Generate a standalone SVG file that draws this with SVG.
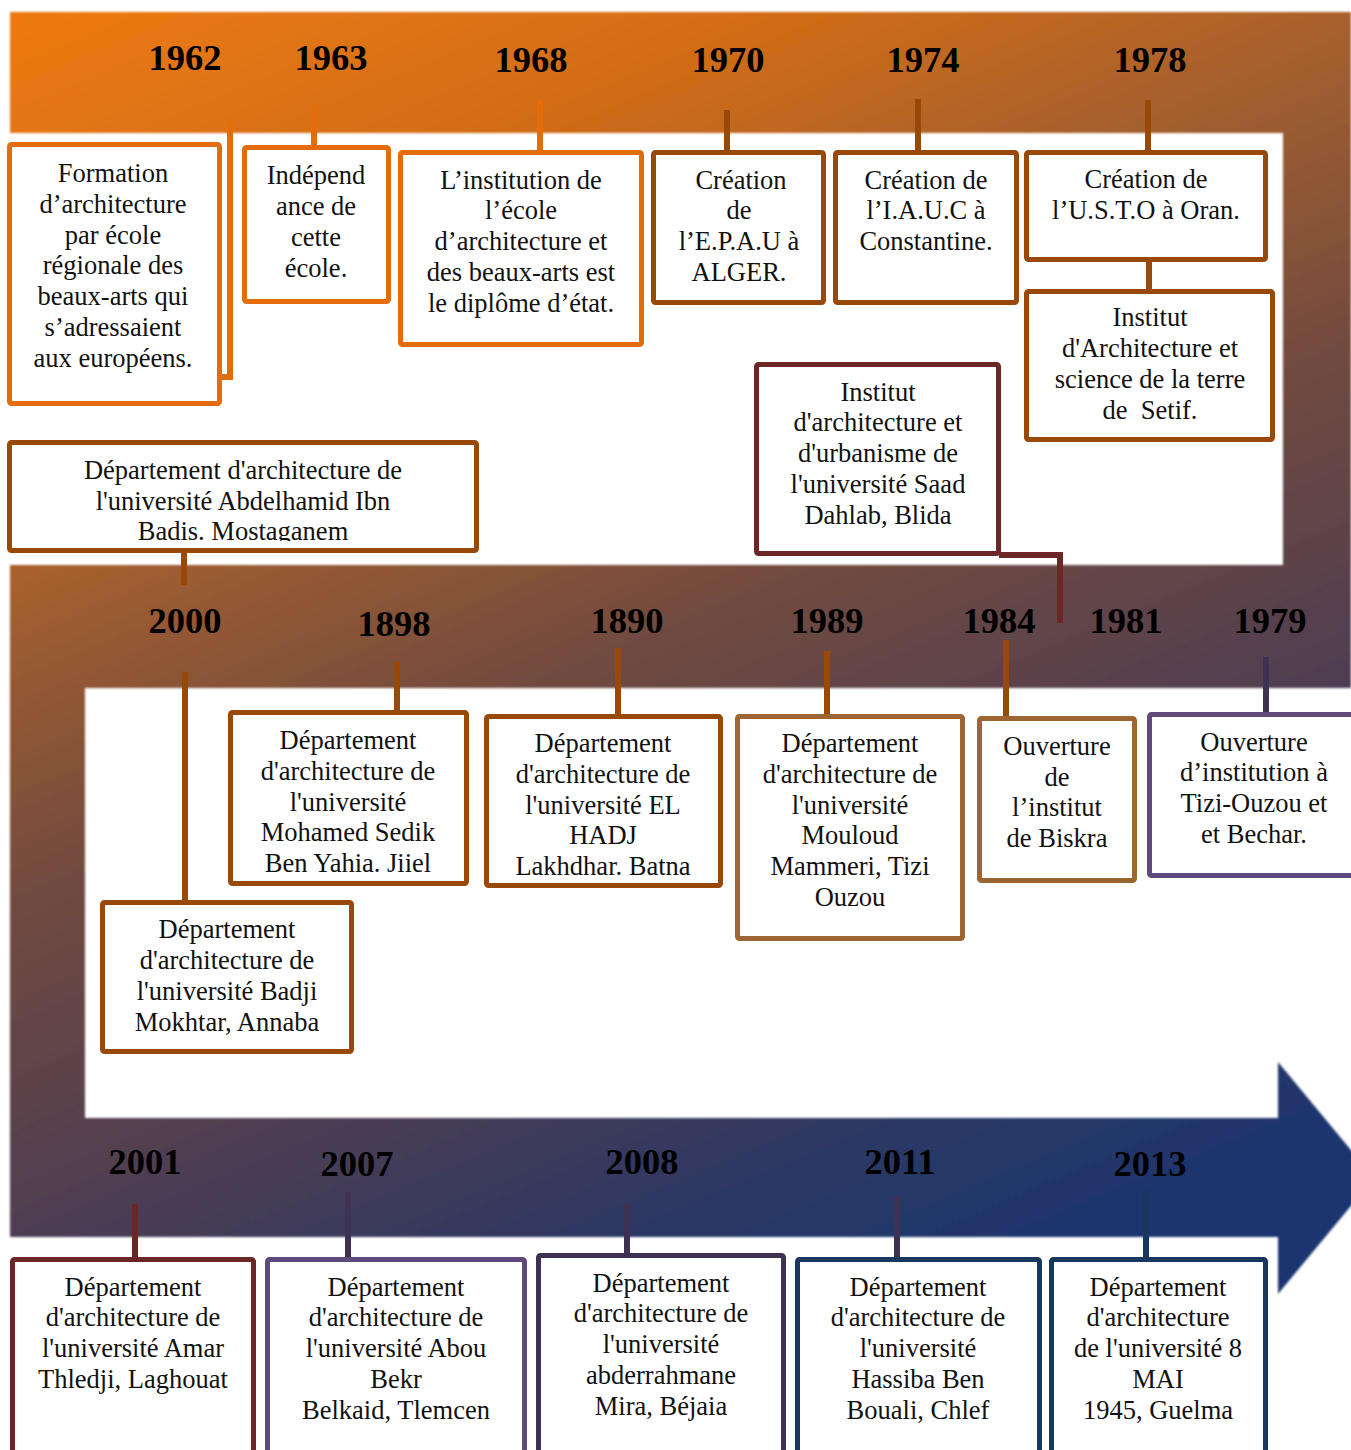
<svg xmlns="http://www.w3.org/2000/svg" width="1351" height="1450" viewBox="0 0 1351 1450">
<defs>
<linearGradient id="bandGrad" gradientUnits="userSpaceOnUse" x1="10" y1="12" x2="612" y2="1457">
<stop offset="0" stop-color="#ee7a10"/>
<stop offset="0.2" stop-color="#d06c18"/>
<stop offset="0.34" stop-color="#a6602e"/>
<stop offset="0.53" stop-color="#704a40"/>
<stop offset="0.72" stop-color="#4f3e52"/>
<stop offset="0.86" stop-color="#2e3862"/>
<stop offset="1" stop-color="#1b3670"/>
</linearGradient>
<filter id="soft" x="-2%" y="-2%" width="104%" height="104%"><feGaussianBlur stdDeviation="0.8"/></filter>
<clipPath id="clipMost"><rect x="12" y="445" width="462" height="96"/></clipPath>
<style>
.yr{font-family:"Liberation Serif","Times New Roman",serif;font-weight:bold;font-size:36.5px;fill:#000;text-anchor:middle}
.t{font-family:"Liberation Serif","Times New Roman",serif;font-size:26.5px;fill:#111;text-anchor:middle}
.box{fill:#fff;stroke-width:5;stroke-linejoin:round}
.c{fill:none;stroke-width:6}
.or{stroke:#e46c0a}
.br{stroke:#984807}
.lb{stroke:#9c6531}
.dr{stroke:#6b2626}
.pu{stroke:#604a7b}
.dp{stroke:#3f3151}
.bl{stroke:#17375e}
</style>
</defs>
<rect width="1351" height="1450" fill="#fff"/>
<g id="band">
<path d="M10,12 L1351,12 L1351,688 L85,688 L85,1118 L1278,1118 L1278,1062 L1374,1178 L1278,1294 L1278,1237 L10,1237 L10,565 L1283,565 L1283,133 L10,133 Z" fill="url(#bandGrad)" filter="url(#soft)"/>
</g>
<g id="years">
<text class="yr" x="185" y="70">1962</text>
<text class="yr" x="331" y="70">1963</text>
<text class="yr" x="531" y="72">1968</text>
<text class="yr" x="728" y="72">1970</text>
<text class="yr" x="923" y="72">1974</text>
<text class="yr" x="1150" y="72">1978</text>
<text class="yr" x="185" y="633">2000</text>
<text class="yr" x="394" y="636">1898</text>
<text class="yr" x="627" y="633">1890</text>
<text class="yr" x="827" y="633">1989</text>
<text class="yr" x="999" y="633">1984</text>
<text class="yr" x="1126" y="633">1981</text>
<text class="yr" x="1270" y="633">1979</text>
<text class="yr" x="145" y="1174">2001</text>
<text class="yr" x="357" y="1176">2007</text>
<text class="yr" x="642" y="1174">2008</text>
<text class="yr" x="900" y="1174">2011</text>
<text class="yr" x="1150" y="1176">2013</text>
</g>
<g id="connectors">
<path class="c or" d="M230,120 V377 H220"/>
<path class="c or" d="M314,106 V146"/>
<path class="c or" d="M540,99 V151"/>
<path class="c br" d="M727,110 V151"/>
<path class="c br" d="M918,99 V151"/>
<path class="c br" d="M1148,100 V151"/>
<path class="c br" d="M1149,262 V290"/>
<path class="c dr" d="M999,555 H1060 V623"/>
<path class="c br" d="M184,553 V585"/>
<path class="c br" d="M185,672 V901"/>
<path class="c br" d="M397,661 V712"/>
<path class="c br" d="M618,648 V716"/>
<path class="c br" d="M827,651 V716"/>
<path class="c br" d="M1006,640 V722"/>
<path class="c dp" d="M1266,657 V714"/>
<path class="c dr" d="M135,1204 V1259"/>
<path class="c dp" d="M348,1192 V1259"/>
<path class="c dp" d="M627,1203 V1255"/>
<path class="c dp" d="M897,1196 V1259"/>
<path class="c bl" d="M1146,1190 V1259"/>
</g>
<g id="n1962">
<rect class="box or" x="9.5" y="144.5" width="210" height="259" rx="2"/>
<text class="t"><tspan x="113" y="182">Formation</tspan><tspan x="113" y="213">d’architecture</tspan><tspan x="113" y="244">par école</tspan><tspan x="113" y="274">régionale des</tspan><tspan x="113" y="305">beaux-arts qui</tspan><tspan x="113" y="336">s’adressaient</tspan><tspan x="113" y="367">aux européens.</tspan></text>
</g>
<g id="n1963">
<rect class="box or" x="244.5" y="147.5" width="144" height="154" rx="2"/>
<text class="t"><tspan x="316" y="184">Indépend</tspan><tspan x="316" y="215">ance de</tspan><tspan x="316" y="246">cette</tspan><tspan x="316" y="277">école.</tspan></text>
</g>
<g id="n1968">
<rect class="box or" x="400.5" y="152.5" width="241" height="192" rx="2"/>
<text class="t"><tspan x="521" y="189">L’institution de</tspan><tspan x="521" y="219">l’école</tspan><tspan x="521" y="250">d’architecture et</tspan><tspan x="521" y="281">des beaux-arts est</tspan><tspan x="521" y="312">le diplôme d’état.</tspan></text>
</g>
<g id="n1970">
<rect class="box br" x="653.5" y="152.5" width="170" height="150" rx="2"/>
<text class="t"><tspan x="741" y="189">Création</tspan><tspan x="739" y="219">de</tspan><tspan x="739" y="250">l’E.P.A.U à</tspan><tspan x="739" y="281">ALGER.</tspan></text>
</g>
<g id="n1974">
<rect class="box br" x="835.5" y="152.5" width="181" height="150" rx="2"/>
<text class="t"><tspan x="926" y="189">Création de</tspan><tspan x="926" y="219">l’I.A.U.C à</tspan><tspan x="926" y="250">Constantine.</tspan></text>
</g>
<g id="n1978">
<rect class="box br" x="1026.5" y="152.5" width="239" height="107" rx="2"/>
<text class="t"><tspan x="1146" y="188">Création de</tspan><tspan x="1146" y="219">l’U.S.T.O à Oran.</tspan></text>
</g>
<g id="nSetif">
<rect class="box br" x="1026.5" y="291.5" width="246" height="148" rx="2"/>
<text class="t"><tspan x="1150" y="326">Institut</tspan><tspan x="1150" y="357">d'Architecture et</tspan><tspan x="1150" y="388">science de la terre</tspan><tspan x="1150" y="419">de&#160; Setif.</tspan></text>
</g>
<g id="nBlida">
<rect class="box dr" x="756.5" y="364.5" width="242" height="189" rx="2"/>
<text class="t"><tspan x="878" y="401">Institut</tspan><tspan x="878" y="431">d'architecture et</tspan><tspan x="878" y="462">d'urbanisme de</tspan><tspan x="878" y="493">l'université Saad</tspan><tspan x="878" y="524">Dahlab, Blida</tspan></text>
</g>
<g id="nMostaganem">
<rect class="box br" x="9.5" y="442.5" width="467" height="108" rx="2"/>
<text class="t" clip-path="url(#clipMost)"><tspan x="243" y="479">Département d'architecture de</tspan><tspan x="243" y="510">l'université Abdelhamid Ibn</tspan><tspan x="243" y="540">Badis. Mostaganem</tspan></text>
</g>
<g id="nAnnaba">
<rect class="box br" x="102.5" y="902.5" width="249" height="149" rx="2"/>
<text class="t"><tspan x="227" y="938">Département</tspan><tspan x="227" y="969">d'architecture de</tspan><tspan x="227" y="1000">l'université Badji</tspan><tspan x="227" y="1031">Mokhtar, Annaba</tspan></text>
</g>
<g id="nJijel">
<rect class="box br" x="230.5" y="712.5" width="236" height="171" rx="2"/>
<text class="t"><tspan x="348" y="749">Département</tspan><tspan x="348" y="780">d'architecture de</tspan><tspan x="348" y="811">l'université</tspan><tspan x="348" y="841">Mohamed Sedik</tspan><tspan x="348" y="872">Ben Yahia. Jiiel</tspan></text>
</g>
<g id="nBatna">
<rect class="box br" x="486.5" y="716.5" width="234" height="169" rx="2"/>
<text class="t"><tspan x="603" y="752">Département</tspan><tspan x="603" y="783">d'architecture de</tspan><tspan x="603" y="814">l'université EL</tspan><tspan x="603" y="844">HADJ</tspan><tspan x="603" y="875">Lakhdhar. Batna</tspan></text>
</g>
<g id="nTizi">
<rect class="box lb" x="737.5" y="716.5" width="225" height="222" rx="2"/>
<text class="t"><tspan x="850" y="752">Département</tspan><tspan x="850" y="783">d'architecture de</tspan><tspan x="850" y="814">l'université</tspan><tspan x="850" y="844">Mouloud</tspan><tspan x="850" y="875">Mammeri, Tizi</tspan><tspan x="850" y="906">Ouzou</tspan></text>
</g>
<g id="nBiskra">
<rect class="box lb" x="979.5" y="718.5" width="155" height="162" rx="2"/>
<text class="t"><tspan x="1057" y="755">Ouverture</tspan><tspan x="1057" y="786">de</tspan><tspan x="1057" y="816">l’institut</tspan><tspan x="1057" y="847">de Biskra</tspan></text>
</g>
<g id="n1979">
<rect class="box pu" x="1149.5" y="714.5" width="215" height="161" rx="2"/>
<text class="t"><tspan x="1254" y="751">Ouverture</tspan><tspan x="1254" y="781">d’institution à</tspan><tspan x="1254" y="812">Tizi-Ouzou et</tspan><tspan x="1254" y="843">et Bechar.</tspan></text>
</g>
<g id="nLaghouat">
<rect class="box dr" x="12.5" y="1259.5" width="241" height="200" rx="2"/>
<text class="t"><tspan x="133" y="1296">Département</tspan><tspan x="133" y="1326">d'architecture de</tspan><tspan x="133" y="1357">l'université Amar</tspan><tspan x="133" y="1388">Thledji, Laghouat</tspan></text>
</g>
<g id="nTlemcen">
<rect class="box pu" x="267.5" y="1259.5" width="257" height="200" rx="2"/>
<text class="t"><tspan x="396" y="1296">Département</tspan><tspan x="396" y="1326">d'architecture de</tspan><tspan x="396" y="1357">l'université Abou</tspan><tspan x="396" y="1388">Bekr</tspan><tspan x="396" y="1419">Belkaid, Tlemcen</tspan></text>
</g>
<g id="nBejaia">
<rect class="box dp" x="538.5" y="1255.5" width="245" height="204" rx="2"/>
<text class="t"><tspan x="661" y="1292">Département</tspan><tspan x="661" y="1322">d'architecture de</tspan><tspan x="661" y="1353">l'université</tspan><tspan x="661" y="1384">abderrahmane</tspan><tspan x="661" y="1415">Mira, Béjaia</tspan></text>
</g>
<g id="nChlef">
<rect class="box bl" x="797.5" y="1259.5" width="242" height="200" rx="2"/>
<text class="t"><tspan x="918" y="1296">Département</tspan><tspan x="918" y="1326">d'architecture de</tspan><tspan x="918" y="1357">l'université</tspan><tspan x="918" y="1388">Hassiba Ben</tspan><tspan x="918" y="1419">Bouali, Chlef</tspan></text>
</g>
<g id="nGuelma">
<rect class="box bl" x="1051.5" y="1259.5" width="214" height="200" rx="2"/>
<text class="t"><tspan x="1158" y="1296">Département</tspan><tspan x="1158" y="1326">d'architecture</tspan><tspan x="1158" y="1357">de l'université 8</tspan><tspan x="1158" y="1388">MAI</tspan><tspan x="1158" y="1419">1945, Guelma</tspan></text>
</g>
</svg>
